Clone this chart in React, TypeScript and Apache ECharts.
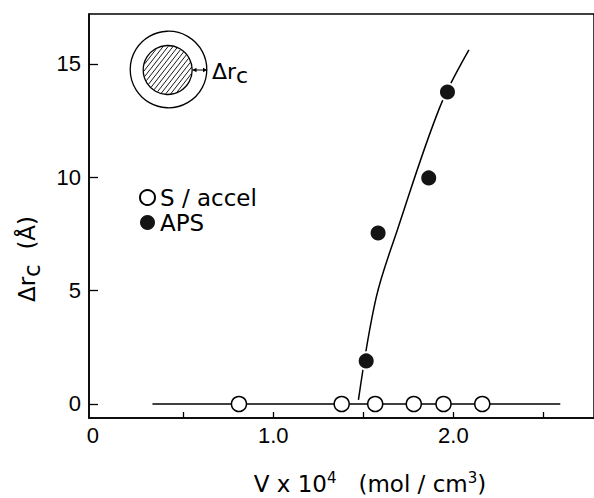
import React, { useEffect, useRef } from "react";
import * as echarts from "echarts";

// ---- data ----
const xTickValues = [0.5, 1.0, 1.5, 2.0, 2.5];
const xLabelValues = [0, 1.0, 2.0];
const yTickValues = [0, 5, 10, 15];

const sAccelX = [0.81, 1.38, 1.566, 1.78, 1.945, 2.16];
const sAccelY = [0, 0, 0, 0, 0, 0];

const apsX = [1.516, 1.582, 1.863, 1.967];
const apsY = [1.9, 7.54, 9.97, 13.76];

const fitX = [1.473, 1.571, 1.687, 1.923, 2.086];
const fitY = [0.18, 4.68, 7.63, 13.06, 15.62];

const baselineX = [0.33, 2.593];
const baselineY = [0, 0];

const X_MIN = -0.022;
const X_MAX = 2.78;
const Y_MIN = -0.618;
const Y_MAX = 17.2;

const zip = (xs: number[], ys: number[]) => xs.map((x, i) => [x, ys[i]]);

const FONT_TEXT = "DejaVu Sans";
const FONT_TICK = "Liberation Sans";

function hatchLines(cx: number, cy: number, r: number, spacing: number, angleDeg: number) {
  const a = (angleDeg * Math.PI) / 180;
  const dx = Math.cos(a);
  const dy = -Math.sin(a);
  const nx = Math.sin(a);
  const ny = Math.cos(a);
  const out: any[] = [];
  for (let s = -r + spacing / 2; s < r; s += spacing) {
    const h = Math.sqrt(Math.max(r * r - s * s, 0));
    const px = cx + nx * s;
    const py = cy + ny * s;
    out.push({
      type: "line",
      shape: { x1: px - dx * h, y1: py - dy * h, x2: px + dx * h, y2: py + dy * h },
      style: { stroke: "#000", lineWidth: 0.9 },
      silent: true,
    });
  }
  return out;
}

export default function App() {
  const ref = useRef<HTMLDivElement>(null);

  useEffect(() => {
    if (!ref.current) return;
    const chart = echarts.init(ref.current, undefined, { renderer: "svg" });

    const innerCx = 167.7;
    const innerCy = 70;
    const innerR = 24.5;

    const option: any = {
      animation: false,
      backgroundColor: "#fff",
      grid: {
        left: 89,
        top: 14,
        width: 510,
        height: 404,
        show: true,
        borderColor: "#000",
        borderWidth: 1.5,
        backgroundColor: "transparent",
      },
      xAxis: {
        type: "value",
        min: X_MIN,
        max: X_MAX,
        axisLine: { show: true, onZero: false, lineStyle: { color: "#000", width: 1.5 } },
        axisTick: {
          show: true,
          inside: true,
          length: 6,
          customValues: xTickValues,
          lineStyle: { color: "#000", width: 1.3 },
        },
        axisLabel: {
          customValues: xLabelValues,
          formatter: (v: number) => (v === 0 ? "0" : v.toFixed(1)),
          color: "#000",
          fontFamily: FONT_TICK,
          fontSize: 22,
          margin: 6,
        },
        splitLine: { show: false },
      },
      yAxis: {
        type: "value",
        min: Y_MIN,
        max: Y_MAX,
        axisLine: { show: true, onZero: false, lineStyle: { color: "#000", width: 1.5 } },
        axisTick: {
          show: true,
          inside: true,
          length: 9,
          customValues: yTickValues,
          lineStyle: { color: "#000", width: 1.3 },
        },
        axisLabel: {
          customValues: yTickValues,
          color: "#000",
          fontFamily: FONT_TICK,
          fontSize: 22,
          margin: 8,
        },
        splitLine: { show: false },
      },
      legend: {
        data: [
          { name: "S / accel" },
          { name: "APS", itemStyle: { borderWidth: 0 } },
        ],
        orient: "vertical",
        left: 134,
        top: 181,
        itemWidth: 15,
        itemHeight: 15,
        itemGap: 2,
        selectedMode: false,
        textStyle: { fontFamily: FONT_TEXT, fontSize: 23, color: "#000", lineHeight: 20 },
      },
      series: [
        {
          name: "baseline",
          type: "line",
          data: zip(baselineX, baselineY),
          showSymbol: false,
          symbol: "none",
          lineStyle: { color: "#000", width: 1.5 },
          z: 1,
        },
        {
          name: "fit",
          type: "line",
          data: zip(fitX, fitY),
          smooth: 0.35,
          showSymbol: false,
          symbol: "none",
          lineStyle: { color: "#000", width: 1.5 },
          z: 1,
        },
        {
          name: "S / accel",
          type: "scatter",
          data: zip(sAccelX, sAccelY),
          symbol: "circle",
          symbolSize: 15,
          itemStyle: { color: "#fff", borderColor: "#000", borderWidth: 1.5, opacity: 1 },
          z: 3,
        },
        {
          name: "APS",
          type: "scatter",
          data: zip(apsX, apsY),
          symbol: "circle",
          symbolSize: 17,
          itemStyle: { color: "#141414", borderColor: "#fff", borderWidth: 2, opacity: 1 },
          z: 3,
        },
      ],
      graphic: [
        // inset: core with shell
        {
          type: "circle",
          shape: { cx: 168.5, cy: 69.5, r: 38.3 },
          style: { fill: "none", stroke: "#000", lineWidth: 1.3 },
          silent: true,
        },
        ...hatchLines(innerCx, innerCy, innerR - 0.6, 3.9, 52),
        {
          type: "circle",
          shape: { cx: innerCx, cy: innerCy, r: innerR },
          style: { fill: "none", stroke: "#000", lineWidth: 1.3 },
          silent: true,
        },
        {
          type: "line",
          shape: { x1: 193, y1: 70, x2: 206.5, y2: 70 },
          style: { stroke: "#000", lineWidth: 1 },
          silent: true,
        },
        {
          type: "polygon",
          shape: { points: [[192.5, 70], [196.5, 67.8], [196.5, 72.2]] },
          style: { fill: "#000" },
          silent: true,
        },
        {
          type: "polygon",
          shape: { points: [[207, 70], [203, 67.8], [203, 72.2]] },
          style: { fill: "#000" },
          silent: true,
        },
        {
          type: "text",
          x: 212,
          y: 71,
          style: {
            text: "{m|Δr}{s|c}",
            align: "left",
            verticalAlign: "middle",
            rich: {
              m: { fontFamily: FONT_TEXT, fontSize: 22, fill: "#000" },
              s: { fontFamily: FONT_TEXT, fontSize: 22, fill: "#000", padding: [9, 0, 0, 0] },
            },
          },
          silent: true,
        },
        // y axis title
        {
          type: "text",
          x: 27,
          y: 259,
          rotation: Math.PI / 2,
          style: {
            text: "{m|Δr}{s|c}{m|  (Å)}",
            align: "center",
            verticalAlign: "middle",
            rich: {
              m: { fontFamily: FONT_TEXT, fontSize: 23, fill: "#000" },
              s: { fontFamily: FONT_TEXT, fontSize: 23, fill: "#000", padding: [9, 0, 0, 0] },
            },
          },
          silent: true,
        },
        // x axis title
        {
          type: "text",
          x: 370,
          y: 484,
          style: {
            text: "{m|V x 10}{p|4}{m|   (mol / cm}{p|3}{m|)}",
            align: "center",
            verticalAlign: "middle",
            rich: {
              m: { fontFamily: FONT_TEXT, fontSize: 23, fill: "#000" },
              p: { fontFamily: FONT_TEXT, fontSize: 15, fill: "#000", padding: [0, 0, 12, 0] },
            },
          },
          silent: true,
        },
      ],
    };

    chart.setOption(option);
    return () => {
      chart.dispose();
    };
  }, []);

  return (
    <div
      ref={ref}
      style={{ position: "fixed", left: 0, top: 0, width: 594, height: 498, background: "#fff" }}
    />
  );
}
